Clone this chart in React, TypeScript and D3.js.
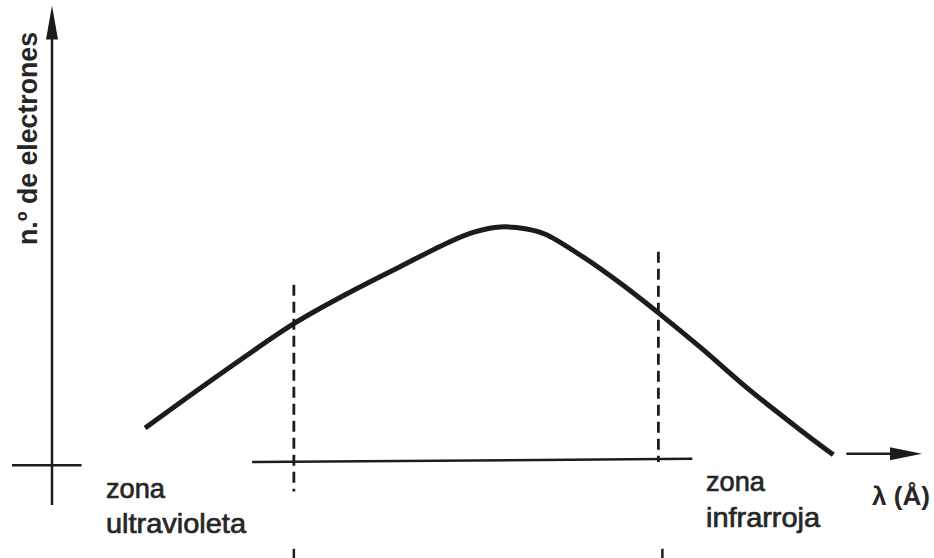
import React from 'react';
import * as d3 from 'd3';

// curve points (arbitrary units: x = wavelength, y = number of electrons)
const curveX = [10.7, 19.3, 27.8, 34.3, 40.0, 45.8, 48.6, 51.5, 54.4, 56.7, 60.7, 65.3, 69.7, 74.5, 80.2, 86.0, 89.8];
const curveY = [7.5, 19.4, 30.6, 37.6, 43.2, 48.8, 50.9, 52.0, 51.6, 50.4, 45.8, 39.6, 33.0, 25.4, 15.9, 7.1, 1.6];

// dashed limits of the visible zone
const limitX = [27.8, 69.7];
const limitTop = [39.2, 46.5];
const limitBottom = [-6.5, 0];

const yLabel = 'n.º de electrones';
const xLabel = 'λ (Å)';
const leftZone = ['zona', 'ultravioleta'];
const rightZone = ['zona', 'infrarroja'];

const W = 934;
const H = 558;

const INK = '#1c1c1c';
const TEXT = '#262626';
const FONT = '"Liberation Sans", Arial, sans-serif';

export default function App() {
  const x = d3.scaleLinear().domain([0, 100]).range([52, 922]);
  const y = d3.scaleLinear().domain([0, 100]).range([462, 10]);

  const pts = curveX.map((v, i) => [v, curveY[i]] as [number, number]);
  const line = d3
    .line<[number, number]>()
    .x((d) => x(d[0]))
    .y((d) => y(d[1]))
    .curve(d3.curveCatmullRom.alpha(0.5));

  const yTop = y(101);
  const xEnd = x(100);
  const xArrowY = y(1.8);

  const textProps = {
    fontFamily: FONT,
    fontSize: 28,
    fill: TEXT,
    stroke: TEXT,
    strokeWidth: 0.7,
    lengthAdjust: 'spacingAndGlyphs',
  };

  return (
    <svg width={W} height={H} style={{ position: 'absolute', left: 0, top: 0, background: '#fff' }}>
      {/* y axis */}
      <line x1={x(0)} x2={x(0)} y1={y(-9.5)} y2={yTop + 20} stroke={INK} strokeWidth={2.5} />
      <path
        d={`M${x(0)},${yTop} L${x(0) + 6},${yTop + 34} L${x(0) - 6},${yTop + 34} Z`}
        fill={INK}
      />
      {/* origin cross */}
      <line x1={x(-4.6)} x2={x(3.4)} y1={y(-0.7)} y2={y(-0.7)} stroke={INK} strokeWidth={2.5} />

      {/* baseline segment */}
      <line x1={x(23)} x2={x(73.6)} y1={y(0)} y2={y(0.7)} stroke={INK} strokeWidth={2.5} />

      {/* x arrow */}
      <line x1={x(91.3)} x2={xEnd - 20} y1={xArrowY} y2={xArrowY} stroke={INK} strokeWidth={2.5} />
      <path
        d={`M${xEnd},${xArrowY} L${xEnd - 32},${xArrowY - 6.5} L${xEnd - 32},${xArrowY + 6.5} Z`}
        fill={INK}
      />

      {/* dashed limits */}
      {limitX.map((lx, i) => (
        <g key={i}>
          <line
            x1={x(lx)}
            x2={x(lx)}
            y1={y(limitTop[i])}
            y2={y(limitBottom[i])}
            stroke={INK}
            strokeWidth={2.8}
            strokeDasharray="11 6"
          />
          <line
            x1={x(lx) + i * 4}
            x2={x(lx) + i * 4}
            y1={y(-19.2)}
            y2={y(-21.5)}
            stroke={INK}
            strokeWidth={2.5}
          />
        </g>
      ))}

      {/* curve */}
      <path d={line(pts) || ''} fill="none" stroke={INK} strokeWidth={5} />

      {/* labels */}
      <text
        transform={`translate(37,245) rotate(-90)`}
        fontFamily={FONT}
        fontWeight="bold"
        fontSize={28}
        fill={TEXT}
        textLength={213}
        lengthAdjust="spacingAndGlyphs"
      >
        {yLabel}
      </text>

      <text x={106} y={498} {...textProps} textLength={59}>
        {leftZone[0]}
      </text>
      <text x={106} y={533} {...textProps} textLength={140}>
        {leftZone[1]}
      </text>
      <text x={706} y={491} {...textProps} textLength={59}>
        {rightZone[0]}
      </text>
      <text x={706} y={527} {...textProps} textLength={114}>
        {rightZone[1]}
      </text>
      <text x={872} y={505} fontFamily={FONT} fontSize={26} fontWeight="bold" fill={TEXT} textLength={58} lengthAdjust="spacingAndGlyphs">
        {xLabel}
      </text>
    </svg>
  );
}
